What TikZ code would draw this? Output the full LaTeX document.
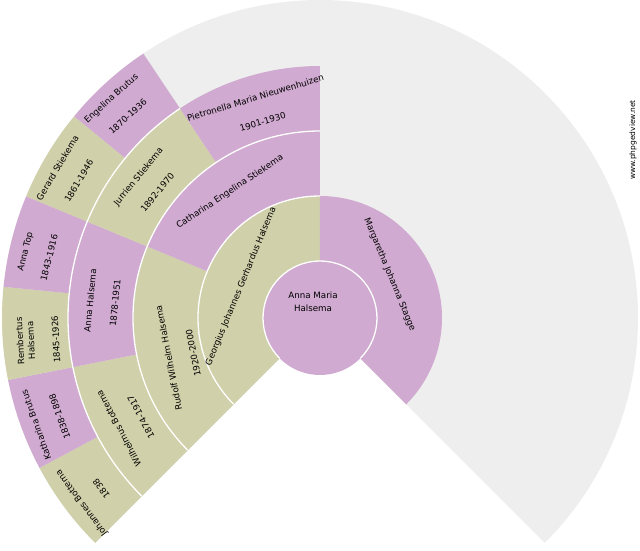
\documentclass[tikz,border=0pt]{standalone}
\usepackage{fontspec}
\setmainfont{DejaVu Sans}
\usepackage{tikz}
\usepackage{xcolor}

\definecolor{femalecol}{HTML}{D0AAD0}
\definecolor{malecol}{HTML}{D0D0AA}
\definecolor{emptycol}{HTML}{EEEEEE}

% colour, start angle, end angle, inner radius, outer radius
\newcommand{\fanpart}[5]{%
  \fill[#1] (#2:#4pt) arc[start angle=#2, end angle=#3, radius=#4pt]
    -- (#3:#5pt) arc[start angle=#3, end angle=#2, radius=#5pt] -- cycle;}

\begin{document}
\begin{tikzpicture}[x=1pt, y=1pt,
  person/.style={align=center, inner sep=0pt, font=\fontsize{8.7}{11}\selectfont},
  ringline/.style={white, line width=1.3pt}]
\useasboundingbox (-320,-232) rectangle (320,318);
\fill[emptycol] (0,0) -- (-45:318pt) arc[start angle=-45, end angle=225, radius=318pt] -- cycle;
% ring 1
\fanpart{malecol}{90}{225}{57}{122}
\fanpart{femalecol}{-45}{90}{57}{122}
% ring 2
\fanpart{malecol}{157.5}{225}{122}{187}
\fanpart{femalecol}{90}{157.5}{122}{187}
% ring 3
\fanpart{malecol}{191.25}{225}{187}{252}
\fanpart{femalecol}{157.5}{191.25}{187}{252}
\fanpart{malecol}{123.75}{157.5}{187}{252}
\fanpart{femalecol}{90}{123.75}{187}{252}
% ring 4
\fanpart{malecol}{208.125}{225}{252}{318}
\fanpart{femalecol}{191.25}{208.125}{252}{318}
\fanpart{malecol}{174.375}{191.25}{252}{318}
\fanpart{femalecol}{157.5}{174.375}{252}{318}
\fanpart{malecol}{140.625}{157.5}{252}{318}
\fanpart{femalecol}{123.75}{140.625}{252}{318}
% centre
\fill[femalecol] (0,0) circle[radius=57pt];
\draw[ringline] (-45:57pt) arc[start angle=-45, end angle=225, radius=57pt];
\draw[ringline] (90:122pt) arc[start angle=90, end angle=225, radius=122pt];
\draw[ringline] (90:187pt) arc[start angle=90, end angle=225, radius=187pt];
\draw[ringline] (123.75:252pt) arc[start angle=123.75, end angle=225, radius=252pt];

\node[person, font=\fontsize{8.7}{13}\selectfont] (annamaria) at (-7,16) {Anna Maria\\Halsema};
\node[person, rotate=67.5] (georgius) at (158.3:85pt) {Georgius Johannes Gerhardus Halsema};
\node[person, rotate=-67.5] (margaretha) at (31.9:82pt) {Margaretha Johanna Stagge};
\node[person, rotate=33.75] (catharina) at (125.5:155pt) {Catharina Engelina Stiekema};
\node[person, rotate=101.25] (rudolf) at (195:144pt) {Rudolf Wilhelm Halsema\\[14pt]1920-2000};
\node[person, rotate=118.125] (wilhelmus) at (208.8:217pt) {Wilhelmus Bottema\\[14pt]1874-1917};
\node[person, rotate=84.375] (annahalsema) at (175.7:218pt) {Anna Halsema\\[14pt]1878-1951};
\node[person, rotate=50.625] (jurrien) at (142.2:218pt) {Jurrien Stiekema\\[14pt]1892-1970};
\node[person, rotate=16.875] (pietronella) at (106.3:217pt) {Pietronella Maria Nieuwenhuizen\\[14pt]1901-1930};
\node[person, rotate=126.5625] (johannes) at (217.9:290pt) {Johannes Bottema\\[14pt]1838};
\node[person, rotate=109.6875] (katharina) at (200.7:291pt) {Katharina Brutus\\[14pt]1838-1898};
\node[person, rotate=92.8125] (rembertus) at (184.5:283pt) {Rembertus\\Halsema\\[14pt]1845-1926};
\node[person, rotate=75.9375] (annatop) at (167.4:290pt) {Anna Top\\[14pt]1843-1916};
\node[person, rotate=59.0625] (gerard) at (150.3:290pt) {Gerard Stiekema\\[14pt]1861-1946};
\node[person, rotate=42.1875] (engelina) at (133.6:291pt) {Engelina Brutus\\[14pt]1870-1936};

\node[inner sep=0pt, rotate=90, font=\fontsize{7.5}{9}\selectfont] (site) at (313,178) {www.phpgedview.net};
\end{tikzpicture}
\end{document}
